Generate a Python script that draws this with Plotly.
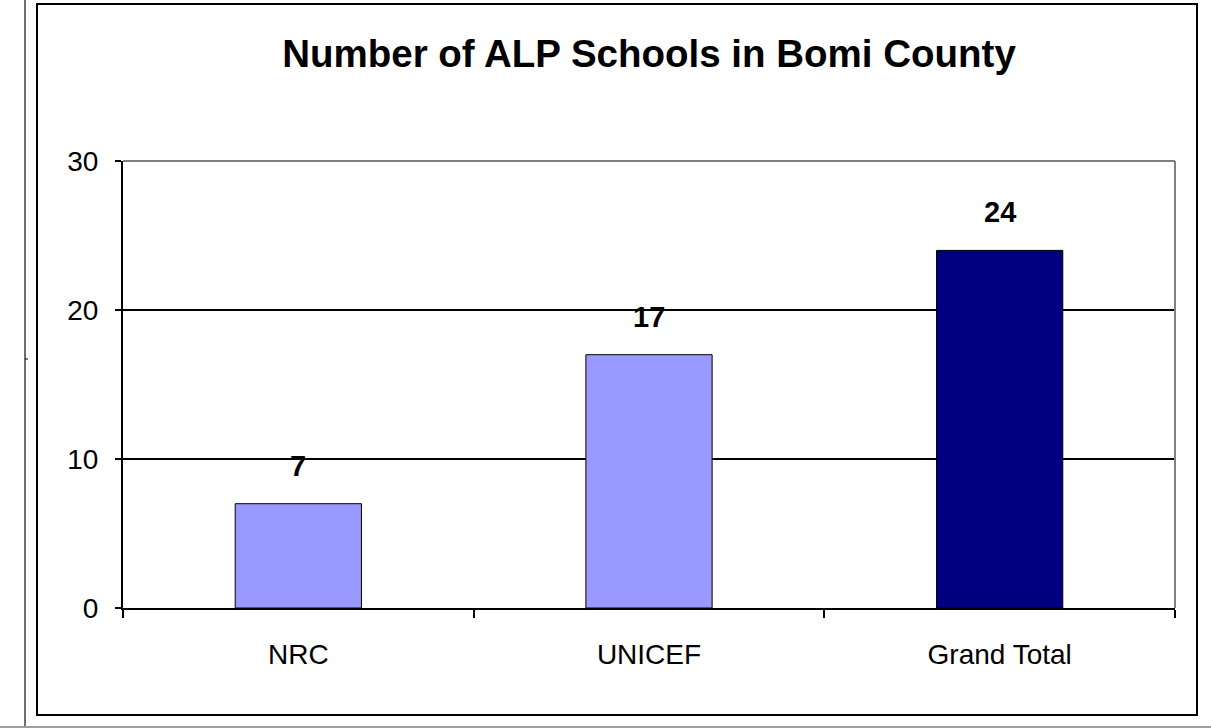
import plotly.graph_objects as go

categories = ["NRC", "UNICEF", "Grand Total"]
values = [7, 17, 24]
bar_colors = ["#9999FF", "#9999FF", "#000080"]
y_ticks = [0, 10, 20, 30]
title_text = "Number of ALP Schools in Bomi County"

W, H = 1211, 728
L, R, T, B = 123, 1175, 161, 608
pw, ph = R - L, B - T
FONT = "Liberation Sans, Arial"

def px(x):
    return (x - L) / pw

def py(y):
    return (B - y) / ph

fig = go.Figure()
fig.add_trace(go.Bar(
    x=categories, y=values,
    marker=dict(color=bar_colors, line=dict(color="black", width=1)),
    width=0.36,
    hoverinfo="skip",
))

for c, v in zip(categories, values):
    fig.add_annotation(x=c, y=v, text=f"<b>{v}</b>", showarrow=False,
                       yshift=38, font=dict(size=29, color="black", family=FONT))

shapes = []
shapes.append(dict(type="line", xref="paper", yref="paper", x0=0, x1=1, y0=1, y1=1,
                   line=dict(color="#808080", width=2), layer="above"))
shapes.append(dict(type="line", xref="paper", yref="paper", x0=1, x1=1, y0=0, y1=1,
                   line=dict(color="#808080", width=2), layer="above"))
shapes.append(dict(type="rect", xref="paper", yref="paper",
                   x0=px(37), x1=px(1197), y0=py(4), y1=py(715),
                   line=dict(color="black", width=2)))
shapes.append(dict(type="line", xref="paper", yref="paper",
                   x0=px(25), x1=px(25), y0=py(0), y1=py(728),
                   line=dict(color="#707070", width=2)))
shapes.append(dict(type="line", xref="paper", yref="paper",
                   x0=px(25), x1=px(28), y0=py(359), y1=py(359),
                   line=dict(color="black", width=1)))
shapes.append(dict(type="line", xref="paper", yref="paper",
                   x0=px(0), x1=px(1211), y0=py(727), y1=py(727),
                   line=dict(color="#a0a0a0", width=2)))

fig.update_layout(
    width=W, height=H,
    margin=dict(l=L, r=W - R, t=T, b=H - B, pad=0),
    paper_bgcolor="white", plot_bgcolor="white",
    showlegend=False,
    shapes=shapes,
    font=dict(family=FONT, color="black"),
    title=dict(text=f"<b>{title_text}</b>", x=0.5, xanchor="center",
               xref="paper", y=1 - 54 / H, yanchor="middle",
               font=dict(size=38.5, color="black", family=FONT)),
)
fig.update_xaxes(
    showline=True, linecolor="black", linewidth=2,
    ticks="outside", tickson="boundaries", ticklen=8, tickcolor="black", tickwidth=2,
    tickfont=dict(size=28), ticklabelstandoff=20, showgrid=False,
    range=[-0.5, 2.5],
)
fig.update_yaxes(
    range=[0, 30], tickvals=y_ticks,
    showline=True, linecolor="black", linewidth=2,
    ticks="outside", ticklen=6, tickcolor="black", tickwidth=2,
    tickfont=dict(size=28), ticklabelstandoff=11,
    showgrid=True, gridcolor="black", gridwidth=1.5,
    zeroline=False,
)

fig.write_html(
    "out.html",
    config={"displayModeBar": False},
    post_script="document.body.style.margin='0';document.body.style.overflow='hidden';",
)
